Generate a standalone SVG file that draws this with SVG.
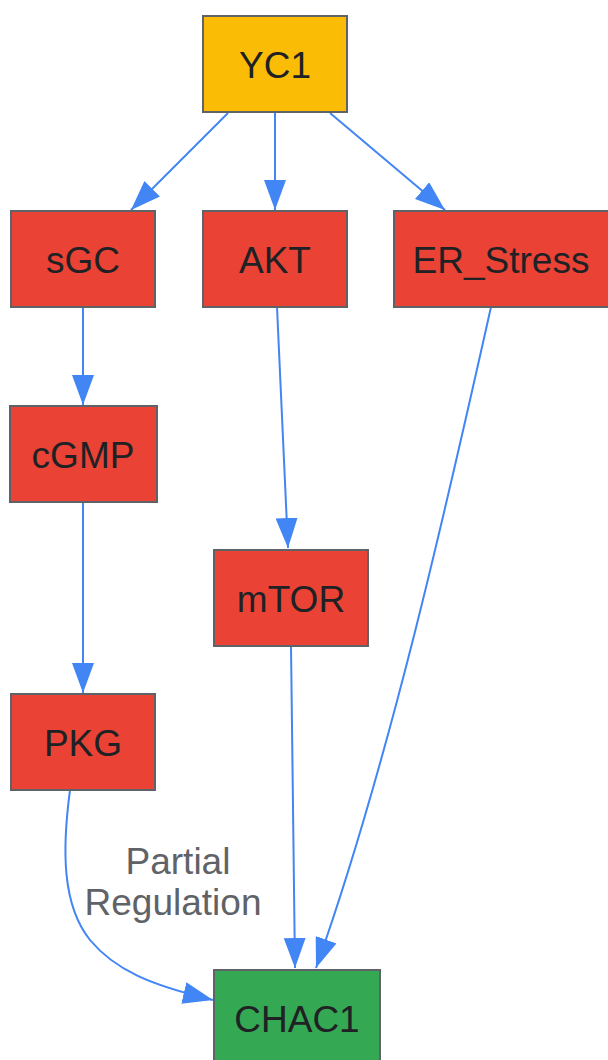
<svg xmlns="http://www.w3.org/2000/svg" width="608" height="1060" viewBox="0 0 608 1060">
<style>
.node rect{stroke:#5f6368;stroke-width:2}
.node text{font-family:"Liberation Sans",Arial,sans-serif;font-size:37px;fill:#202124;text-anchor:middle}
.red rect{fill:#ea4335}
.edge{fill:none;stroke:#4285f4;stroke-width:2;marker-end:url(#arr)}
.lbl{font-family:"Liberation Sans",Arial,sans-serif;font-size:37px;fill:#5f6368;text-anchor:middle}
</style>
<defs>
<marker id="arr" markerUnits="userSpaceOnUse" markerWidth="30" markerHeight="22" refX="30" refY="11" orient="auto" viewBox="0 0 30 22">
<path d="M0,0 L30,11 L0,22 z" fill="#4285f4"/>
</marker>
</defs>
<rect width="608" height="1060" fill="#fff"/>
<g id="connectors">
<path class="edge" d="M228,113 L131,210"/>
<path class="edge" d="M275,113 L275,210"/>
<path class="edge" d="M330,113 L445,210"/>
<path class="edge" d="M83,307 L83,405"/>
<path class="edge" d="M83,502 L83,693"/>
<path class="edge" d="M277,307 L288,548"/>
<path class="edge" d="M291,646 L295,968"/>
<path class="edge" d="M491,307 C450,490 390,760 316,968"/>
<path class="edge" d="M70,790 C62,850 62,905 90,940 C115,970 150,985 213,1000"/>
<text class="lbl" x="178" y="874">Partial</text>
<text class="lbl" x="173" y="915">Regulation</text>
</g>
<g id="YC1" class="node"><rect x="203" y="16" width="144" height="96" fill="#fbbc05"/><text x="275" y="78">YC1</text></g>
<g id="sGC" class="node red"><rect x="11" y="211" width="144" height="96"/><text x="83" y="273">sGC</text></g>
<g id="AKT" class="node red"><rect x="203" y="211" width="144" height="96"/><text x="275" y="273">AKT</text></g>
<g id="ER_Stress" class="node red"><rect x="394" y="211" width="216" height="96"/><text x="501" y="273">ER_Stress</text></g>
<g id="cGMP" class="node red"><rect x="10" y="406" width="147" height="96"/><text x="83" y="468">cGMP</text></g>
<g id="mTOR" class="node red"><rect x="214" y="550" width="154" height="96"/><text x="291" y="612">mTOR</text></g>
<g id="PKG" class="node red"><rect x="11" y="694" width="144" height="96"/><text x="83" y="756">PKG</text></g>
<g id="CHAC1" class="node"><rect x="214" y="970" width="166" height="96" fill="#34a853"/><text x="297" y="1032">CHAC1</text></g>
</svg>
